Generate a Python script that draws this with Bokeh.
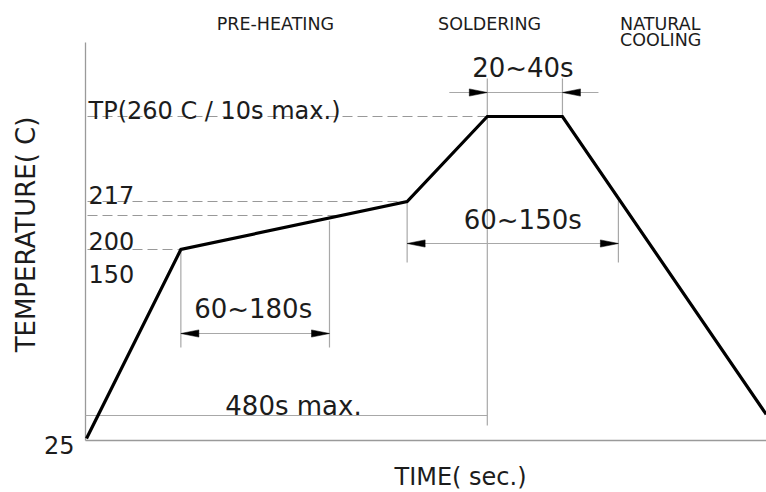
import numpy as np
from bokeh.plotting import figure
from bokeh.models import Range1d
from bokeh.core.properties import value
from bokeh.embed import file_html
from bokeh.resources import INLINE

# ---------------- data (schematic reflow profile) ----------------
level_temps = [25, 150, 200, 217, 260]
level_heights = [438, 249, 215, 201, 116]      # schematic vertical scale (drawing units)
level_labels = ["25", "150", "200", "217", "TP(260  C / 10s max.)"]

profile_time = [0, 113, 384, 480, 570, 814]     # seconds (schematic)
profile_temp = [25, 150, 217, 260, 260, 41]     # deg C

phase_labels = ["PRE-HEATING", "SOLDERING", "NATURAL", "COOLING"]
phase_time = [156, 421, 639, 639]

preheat_window = [113, 291]     # 60~180s
liquidus_window = [384, 637]    # 60~150s
peak_window = [480, 570]        # 20~40s
total_window = [0, 480]         # 480s max.
dim_labels = ["60~180s", "60~150s", "20~40s", "480s max."]

# ---------------- scales ----------------
PX_PER_S = 0.835
X0_PX = 86
W, H = 766, 492


def ty(temp):
    return np.interp(temp, level_temps, level_heights)


def px(n):
    return n / PX_PER_S


prof_y = ty(np.array(profile_temp, dtype=float))


def prof_at(t):
    return float(np.interp(t, profile_time, prof_y))


x_min = (0 - X0_PX) / PX_PER_S
x_max = (W - X0_PX) / PX_PER_S

p = figure(width=W, height=H, x_range=Range1d(x_min, x_max), y_range=Range1d(H, 0),
           output_backend="svg", toolbar_location=None, min_border=0,
           x_axis_type=None, y_axis_type=None)
p.grid.visible = False
p.outline_line_color = None
p.background_fill_color = "white"
p.border_fill_color = "white"

FONT = value("DejaVu Sans")
THIN = "#a8a8a8"
TXT = "#1c1c1c"

# axes frame lines
y_top = 42
y_base = ty(25) + 2
p.segment(x0=[px(-1), px(-1)], y0=[y_top, y_base], x1=[px(-1), x_max], y1=[y_base, y_base],
          line_color="#9a9a9a", line_width=1.3)

# dashed temperature level lines
dash_levels = [260, 217, 200, 150]
dx1 = []
for lv in dash_levels:
    yy = ty(lv)
    rise_t = profile_time[:4]
    rise_y = prof_y[:4]
    dx1.append(float(np.interp(-yy, -rise_y, rise_t)))
p.segment(x0=[px(1)] * 4, y0=[ty(v) for v in dash_levels], x1=dx1, y1=[ty(v) for v in dash_levels],
          line_color="#999999", line_width=1.2, line_dash="10 5")

# dimension / extension lines
seg_x0, seg_y0, seg_x1, seg_y1 = [], [], [], []


def seg(a, b, c, d):
    seg_x0.append(a); seg_y0.append(b); seg_x1.append(c); seg_y1.append(d)


# 480s max.
y480 = 415
seg(px(-1), y480, total_window[1], y480)
seg(total_window[1], 78, total_window[1], 425)
# 20~40s
seg(peak_window[1], 78, peak_window[1], prof_at(peak_window[1]))
y2040 = 92
seg(peak_window[0] - px(38), y2040, peak_window[1] + px(36), y2040)
# 60~150s
y60150 = 243
seg(liquidus_window[0], prof_at(liquidus_window[0]), liquidus_window[0], 262)
seg(liquidus_window[1], prof_at(liquidus_window[1]) + 2, liquidus_window[1], 262)
seg(liquidus_window[0], y60150, liquidus_window[1], y60150)
# 60~180s
y60180 = 333
seg(preheat_window[0], prof_at(preheat_window[0]), preheat_window[0], 347)
seg(preheat_window[1], prof_at(preheat_window[1]) + 3, preheat_window[1], 347)
seg(preheat_window[0], y60180, preheat_window[1], y60180)
p.segment(x0=seg_x0, y0=seg_y0, x1=seg_x1, y1=seg_y1, line_color=THIN, line_width=1.2)

# arrowheads
AL, AW = px(18), 3.6
axs, ays = [], []


def head(tx, yy, direction):
    b = tx - direction * AL
    axs.append([tx, b, b]); ays.append([yy, yy - AW, yy + AW])


head(preheat_window[0], y60180, -1)
head(preheat_window[1], y60180, +1)
head(liquidus_window[0], y60150, -1)
head(liquidus_window[1], y60150, +1)
head(peak_window[0], y2040, +1)
head(peak_window[1], y2040, -1)
p.patches(xs=axs, ys=ays, fill_color="black", line_color="black", line_width=0.5)

# profile
p.line(x=profile_time, y=prof_y, line_color="black", line_width=3.2, line_join="miter")

# level labels
lab_x = [px(-12), px(2), px(2), px(2), px(2)]
lab_y = [444, 273, 240, 194, 110]
lab_align = ["right", "left", "left", "left", "left"]
p.text(x=lab_x, y=lab_y, text=level_labels, text_align=lab_align, text_baseline="alphabetic",
       text_font=FONT, text_font_size="24px", text_color=TXT)

# phase labels
p.text(x=phase_time, y=[23, 23, 23, 39], text=phase_labels, text_align="left",
       text_baseline="alphabetic", text_font=FONT, text_font_size="17.5px", text_color=TXT)

# dimension labels
dim_x = [sum(preheat_window) / 2 - px(2), sum(liquidus_window) / 2 + px(10),
         sum(peak_window) / 2 - px(2), px(207)]
dim_y = [308, 219, 67, 405]
p.text(x=dim_x, y=dim_y, text=dim_labels, text_align="center", text_baseline="alphabetic",
       text_font=FONT, text_font_size="26px", text_color=TXT)

# axis titles
p.text(x=[px(460 - X0_PX)], y=[462], text=["TIME( sec.)"], text_align="center",
       text_baseline="top", text_font=FONT, text_font_size="24px", text_color=TXT)
p.text(x=[px(25 - X0_PX)], y=[234], text=["TEMPERATURE( C)"], angle=np.pi / 2,
       text_align="center", text_baseline="middle", text_font=FONT,
       text_font_size="26px", text_color=TXT)

open("out.html", "w").write(file_html(p, INLINE))
